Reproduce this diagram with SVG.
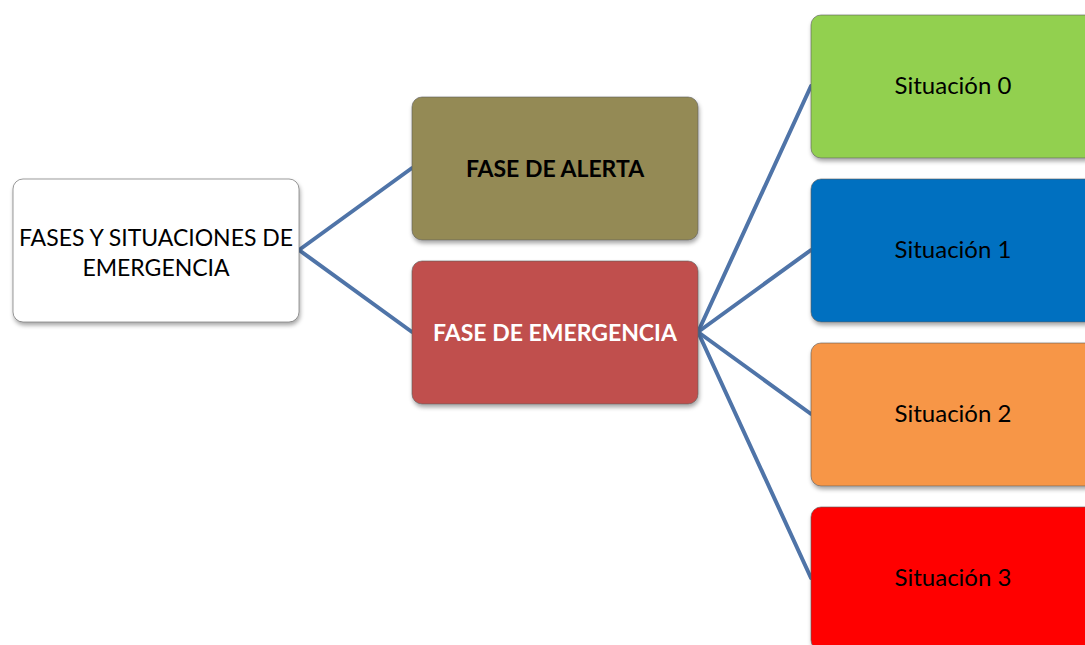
<svg xmlns="http://www.w3.org/2000/svg" width="1085" height="645" viewBox="0 0 1085 645">
<defs>
<filter id="sh" x="-10%" y="-10%" width="120%" height="130%">
<feDropShadow dx="1" dy="3" stdDeviation="2" flood-color="#000" flood-opacity="0.35"/>
</filter>
<style>
.box{stroke:#5a5a5a;stroke-opacity:0.6;stroke-width:1;filter:url(#sh)}
.t{font-family:Lato,"Open Sans","Liberation Sans",sans-serif;font-size:23px;text-anchor:middle;fill:#000}
.s{font-size:24px}
.b{font-weight:bold}
.con{stroke:#4F74A8;stroke-width:4;fill:none;stroke-linecap:round}
</style>
</defs>
<rect width="1085" height="645" fill="#fff"/>
<g id="connectors">
<line class="con" x1="299" y1="250" x2="412" y2="168"/>
<line class="con" x1="299" y1="250" x2="412" y2="332"/>
<line class="con" x1="698" y1="332" x2="811" y2="86"/>
<line class="con" x1="698" y1="332" x2="811" y2="250"/>
<line class="con" x1="698" y1="332" x2="811" y2="414"/>
<line class="con" x1="698" y1="332" x2="811" y2="578"/>
</g>
<g id="root">
<rect class="box" x="13" y="179" width="286" height="143" rx="10" fill="#fff"/>
<text class="t" x="156" y="246">FASES Y SITUACIONES DE</text>
<text class="t" x="156" y="276">EMERGENCIA</text>
</g>
<g id="alerta">
<rect class="box" x="412" y="97" width="286" height="143" rx="10" fill="#948A54"/>
<text class="t b" x="555" y="177">FASE DE ALERTA</text>
</g>
<g id="emergencia">
<rect class="box" x="412" y="261" width="286" height="143" rx="10" fill="#C0504D"/>
<text class="t b" x="555" y="341" style="fill:#fff">FASE DE EMERGENCIA</text>
</g>
<g id="sit0">
<rect class="box" x="811" y="15" width="286" height="143" rx="10" fill="#92D050"/>
<text class="t s" x="953" y="94">Situación 0</text>
</g>
<g id="sit1">
<rect class="box" x="811" y="179" width="286" height="143" rx="10" fill="#0070C0"/>
<text class="t s" x="953" y="258">Situación 1</text>
</g>
<g id="sit2">
<rect class="box" x="811" y="343" width="286" height="143" rx="10" fill="#F79646"/>
<text class="t s" x="953" y="422">Situación 2</text>
</g>
<g id="sit3">
<rect class="box" x="811" y="507" width="286" height="143" rx="10" fill="#FF0000"/>
<text class="t s" x="953" y="586">Situación 3</text>
</g>
</svg>
